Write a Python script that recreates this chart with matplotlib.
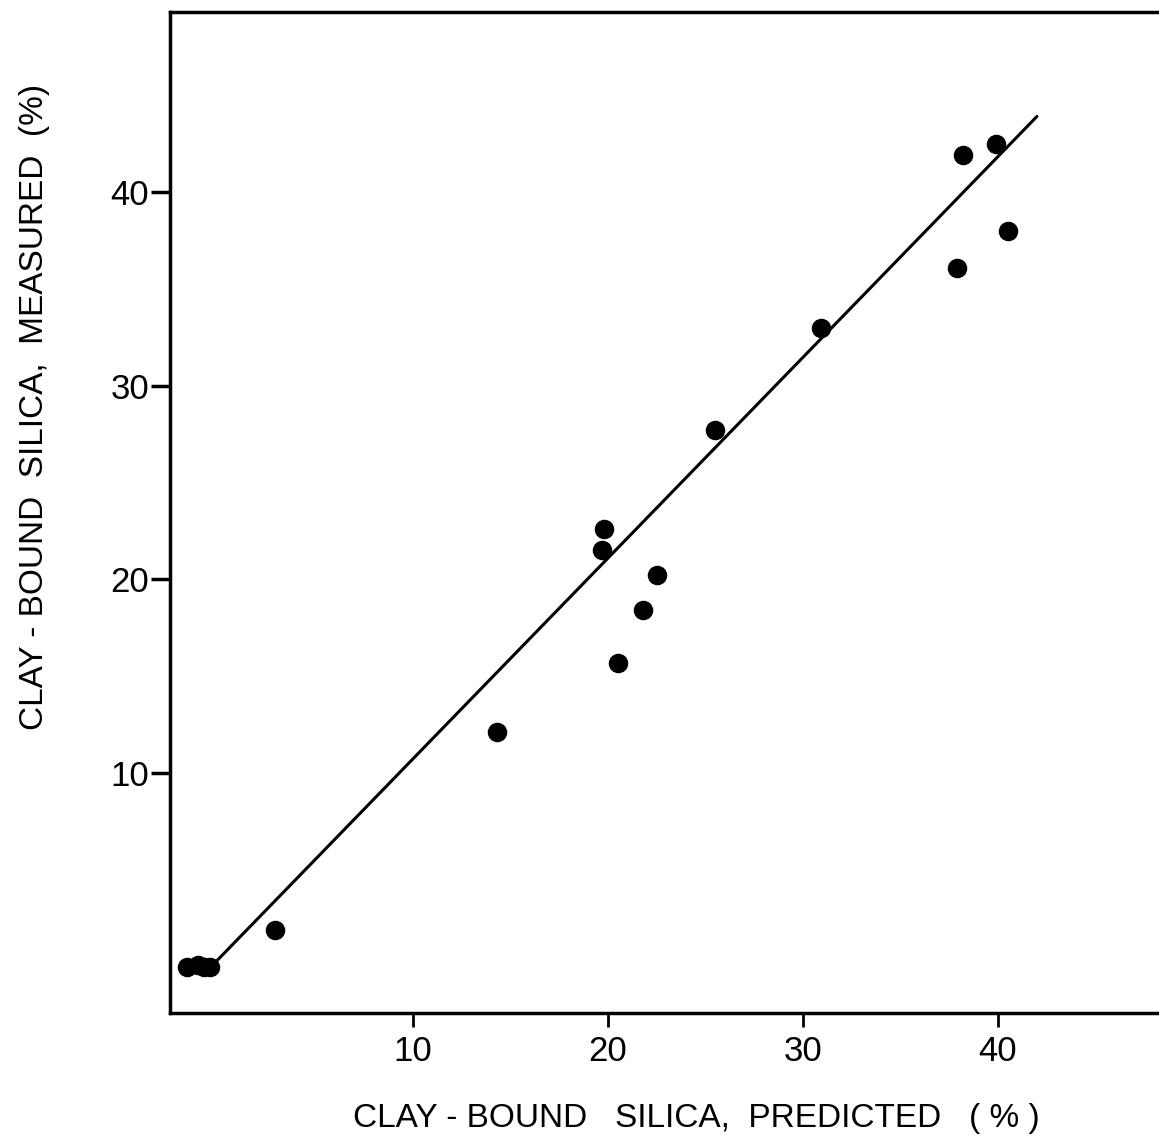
import numpy as np
import matplotlib.pyplot as plt

plt.rcParams['font.family'] = ['Liberation Sans', 'DejaVu Sans']

# predicted vs measured clay-bound silica (%)
predicted = [-1.6, -1.0, -0.7, -0.4, 2.9, 14.3, 19.7, 19.8, 20.5, 21.8, 22.5,
             25.5, 30.9, 37.9, 38.2, 39.9, 40.5]
measured = [0.0, 0.1, 0.0, 0.0, 1.9, 12.1, 21.5, 22.6, 15.7, 18.4, 20.2,
            27.7, 33.0, 36.1, 41.9, 42.5, 38.0]
fit_x = [-0.26, 42.0]
fit_y = [0.1, 43.9]
xticks = [10, 20, 30, 40]
yticks = [10, 20, 30, 40]

fig = plt.figure(figsize=(11.59, 11.47), dpi=100)
ax = fig.add_axes([0.1467, 0.1168, 0.8533, 0.8727])

ax.plot(fit_x, fit_y, color='black', lw=2.2, solid_capstyle='round')
ax.scatter(predicted, measured, s=170, color='black', zorder=3)

ax.set_xlim(-2.46, 48.26)
ax.set_ylim(-2.39, 49.29)
ax.set_xticks(xticks)
ax.set_yticks(yticks)
ax.tick_params(axis='x', direction='out', length=10, width=2, labelsize=25, pad=6)
ax.tick_params(axis='y', direction='out', length=14, width=2.5, labelsize=25, pad=1)

for side in ['left', 'bottom', 'top']:
    ax.spines[side].set_linewidth(2.5)
ax.spines['right'].set_visible(False)

fig.text(0.601, 0.025, 'CLAY - BOUND   SILICA,  PREDICTED   ( % )',
         ha='center', va='center', fontsize=24)
fig.text(0.030, 0.645, 'CLAY - BOUND  SILICA,  MEASURED  (%)',
         ha='center', va='center', fontsize=24, rotation=90)

plt.savefig('out.png', dpi=100)
